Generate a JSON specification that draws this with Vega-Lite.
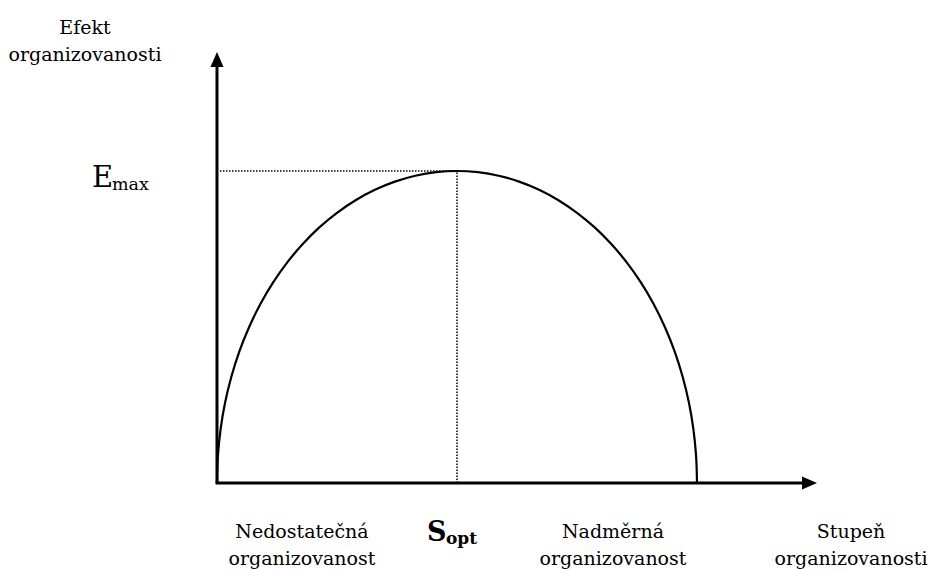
{
  "$schema": "https://vega.github.io/schema/vega-lite/v6.json",
  "width": 931,
  "height": 570,
  "padding": 0,
  "autosize": {"type": "fit", "contains": "padding"},
  "background": "white",
  "config": {"view": {"stroke": null}},
  "encoding": {
    "x": {"field": "x", "type": "quantitative", "scale": {"domain": [-4.5208, 14.875], "nice": false, "zero": false}, "axis": null},
    "y": {"field": "y", "type": "quantitative", "scale": {"domain": [-2.788, 15.481], "nice": false, "zero": false}, "axis": null}
  },
  "layer": [
    {
      "data": {"values": [
        {"x": 0.0625, "y": 10, "x2": 5, "y2": 10},
        {"x": 5, "y": 0, "x2": 5, "y2": 10}
      ]},
      "mark": {"type": "rule", "color": "black", "strokeWidth": 1.5, "strokeDash": [1.5, 1.5]},
      "encoding": {"x2": {"field": "x2"}, "y2": {"field": "y2"}}
    },
    {
      "data": {"values": [
        {"o": 0, "x": 0, "y": 0},
        {"o": 1, "x": 0.019, "y": 0.872},
        {"o": 2, "x": 0.076, "y": 1.736},
        {"o": 3, "x": 0.170, "y": 2.588},
        {"o": 4, "x": 0.302, "y": 3.420},
        {"o": 5, "x": 0.468, "y": 4.226},
        {"o": 6, "x": 0.670, "y": 5.0},
        {"o": 7, "x": 0.904, "y": 5.736},
        {"o": 8, "x": 1.170, "y": 6.428},
        {"o": 9, "x": 1.464, "y": 7.071},
        {"o": 10, "x": 1.786, "y": 7.660},
        {"o": 11, "x": 2.132, "y": 8.192},
        {"o": 12, "x": 2.5, "y": 8.660},
        {"o": 13, "x": 2.887, "y": 9.063},
        {"o": 14, "x": 3.290, "y": 9.397},
        {"o": 15, "x": 3.706, "y": 9.659},
        {"o": 16, "x": 4.132, "y": 9.848},
        {"o": 17, "x": 4.564, "y": 9.962},
        {"o": 18, "x": 5, "y": 10},
        {"o": 19, "x": 5.436, "y": 9.962},
        {"o": 20, "x": 5.868, "y": 9.848},
        {"o": 21, "x": 6.294, "y": 9.659},
        {"o": 22, "x": 6.710, "y": 9.397},
        {"o": 23, "x": 7.113, "y": 9.063},
        {"o": 24, "x": 7.5, "y": 8.660},
        {"o": 25, "x": 7.868, "y": 8.192},
        {"o": 26, "x": 8.214, "y": 7.660},
        {"o": 27, "x": 8.536, "y": 7.071},
        {"o": 28, "x": 8.830, "y": 6.428},
        {"o": 29, "x": 9.096, "y": 5.736},
        {"o": 30, "x": 9.330, "y": 5.0},
        {"o": 31, "x": 9.532, "y": 4.226},
        {"o": 32, "x": 9.698, "y": 3.420},
        {"o": 33, "x": 9.830, "y": 2.588},
        {"o": 34, "x": 9.924, "y": 1.736},
        {"o": 35, "x": 9.981, "y": 0.872},
        {"o": 36, "x": 10, "y": 0}
      ]},
      "mark": {"type": "line", "color": "black", "strokeWidth": 2.2, "interpolate": "catmull-rom"},
      "encoding": {"order": {"field": "o", "type": "quantitative"}}
    },
    {
      "data": {"values": [
        {"x": 0, "y": 0, "x2": 0, "y2": 13.6},
        {"x": -0.03, "y": 0, "x2": 12.3, "y2": 0}
      ]},
      "mark": {"type": "rule", "color": "black", "strokeWidth": 3},
      "encoding": {"x2": {"field": "x2"}, "y2": {"field": "y2"}}
    },
    {
      "data": {"values": [{"x": 0, "y": 13.574}]},
      "mark": {"type": "point", "filled": true, "color": "black", "opacity": 1, "strokeWidth": 0, "size": 225, "shape": "M0,-1L0.87,1L-0.87,1Z"}
    },
    {
      "data": {"values": [{"x": 12.344, "y": 0}]},
      "mark": {"type": "point", "filled": true, "color": "black", "opacity": 1, "strokeWidth": 0, "size": 225, "shape": "M1,0L-1,-0.88L-1,0.88Z"}
    },
    {
      "data": {"values": [
        {"x": -2.75, "y": 14.39, "t": "Efekt"},
        {"x": -2.75, "y": 13.53, "t": "organizovanosti"},
        {"x": 1.77, "y": -1.763, "t": "Nedostatečná"},
        {"x": 1.77, "y": -2.628, "t": "organizovanost"},
        {"x": 8.25, "y": -1.763, "t": "Nadměrná"},
        {"x": 8.25, "y": -2.628, "t": "organizovanost"},
        {"x": 13.21, "y": -1.763, "t": "Stupeň"},
        {"x": 13.21, "y": -2.628, "t": "organizovanosti"}
      ]},
      "mark": {"type": "text", "font": "DejaVu Serif", "fontSize": 19, "align": "center", "baseline": "alphabetic", "color": "black"},
      "encoding": {"text": {"field": "t"}}
    },
    {
      "data": {"values": [{"x": -2.604, "y": 9.487, "t": "E"}]},
      "mark": {"type": "text", "font": "DejaVu Serif", "fontSize": 29, "align": "left", "baseline": "alphabetic", "color": "black"},
      "encoding": {"text": {"field": "t"}}
    },
    {
      "data": {"values": [{"x": -2.188, "y": 9.391, "t": "max"}]},
      "mark": {"type": "text", "font": "DejaVu Serif", "fontSize": 17.5, "align": "left", "baseline": "alphabetic", "color": "black"},
      "encoding": {"text": {"field": "t"}}
    },
    {
      "data": {"values": [{"x": 4.375, "y": -1.859, "t": "S"}]},
      "mark": {"type": "text", "font": "DejaVu Serif", "fontSize": 27, "fontWeight": "bold", "align": "left", "baseline": "alphabetic", "color": "black"},
      "encoding": {"text": {"field": "t"}}
    },
    {
      "data": {"values": [{"x": 4.771, "y": -1.955, "t": "opt"}]},
      "mark": {"type": "text", "font": "DejaVu Serif", "fontSize": 17, "fontWeight": "bold", "align": "left", "baseline": "alphabetic", "color": "black"},
      "encoding": {"text": {"field": "t"}}
    }
  ]
}
